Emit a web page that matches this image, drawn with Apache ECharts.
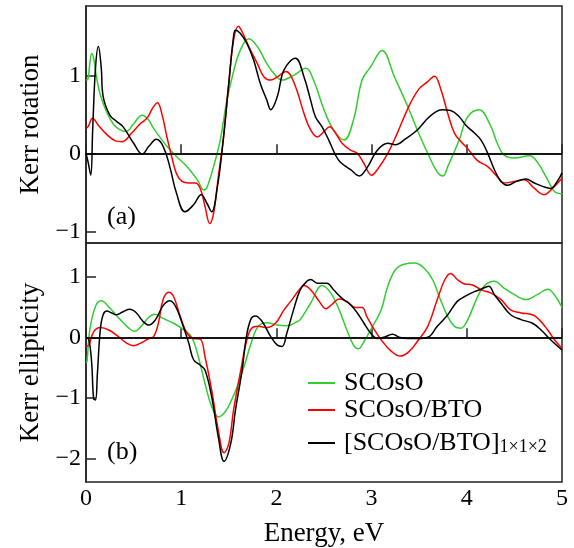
<!DOCTYPE html>
<html>
<head>
<meta charset="utf-8">
<script src="https://cdn.jsdelivr.net/npm/echarts@6/dist/echarts.min.js"></script>
<style>
  html, body { margin: 0; padding: 0; background: #fff; }
  #chart { width: 574px; height: 548px; }
</style>
</head>
<body>
<div id="chart"></div>
<script>
// series names (legend)
var names = ['SCOsO', 'SCOsO/BTO', '[SCOsO/BTO]1×1×2'];
var colors = ['#33cc33', '#ff0000', '#000000'];

// x tick values, energy in eV
var energyTicks = [0, 1, 2, 3, 4, 5];
var rotTicks = [-1, 0, 1];
var ellTicks = [-2, -1, 0, 1];

// (a) Kerr rotation, [energy, value]
var rotGreen = [[0.00,0.94],[0.02,0.95],[0.04,1.15],[0.06,1.28],[0.08,1.22],[0.11,0.98],[0.15,0.75],[0.22,0.52],[0.29,0.37],[0.36,0.30],[0.42,0.28],[0.50,0.38],[0.59,0.49],[0.65,0.44],[0.71,0.32],[0.85,0.09],[0.95,-0.04],[1.06,-0.17],[1.17,-0.34],[1.24,-0.47],[1.27,-0.44],[1.34,-0.17],[1.41,0.17],[1.48,0.68],[1.55,1.05],[1.62,1.32],[1.71,1.47],[1.80,1.37],[1.90,1.15],[1.99,1.00],[2.06,0.94],[2.18,1.00],[2.31,1.09],[2.39,0.94],[2.50,0.56],[2.60,0.30],[2.71,0.17],[2.81,0.43],[2.90,0.94],[2.99,1.11],[3.11,1.32],[3.24,0.98],[3.38,0.60],[3.48,0.30],[3.59,0.00],[3.69,-0.24],[3.75,-0.29],[3.80,-0.17],[3.92,0.17],[4.01,0.47],[4.13,0.56],[4.24,0.38],[4.32,0.13],[4.39,-0.02],[4.50,-0.06],[4.66,-0.03],[4.74,-0.11],[4.85,-0.34],[4.92,-0.49],[5.00,-0.52]];
var rotRed = [[0.00,0.32],[0.02,0.34],[0.07,0.45],[0.13,0.36],[0.22,0.24],[0.31,0.16],[0.38,0.15],[0.48,0.26],[0.57,0.38],[0.64,0.45],[0.70,0.58],[0.75,0.65],[0.80,0.49],[0.85,0.21],[0.90,-0.04],[0.95,-0.26],[1.01,-0.36],[1.08,-0.38],[1.15,-0.38],[1.20,-0.45],[1.25,-0.68],[1.30,-0.90],[1.34,-0.77],[1.39,-0.30],[1.45,0.26],[1.50,0.90],[1.55,1.45],[1.60,1.63],[1.64,1.56],[1.71,1.37],[1.80,1.15],[1.87,0.98],[1.94,0.94],[2.01,0.98],[2.10,1.05],[2.15,1.00],[2.22,0.79],[2.29,0.51],[2.36,0.30],[2.43,0.21],[2.50,0.28],[2.56,0.34],[2.62,0.26],[2.69,0.13],[2.78,0.04],[2.85,0.00],[2.92,-0.13],[3.00,-0.28],[3.06,-0.21],[3.17,0.00],[3.27,0.26],[3.39,0.60],[3.50,0.83],[3.59,0.92],[3.66,0.99],[3.73,0.81],[3.80,0.51],[3.87,0.26],[3.94,0.15],[4.01,0.06],[4.11,-0.09],[4.22,-0.17],[4.32,-0.30],[4.39,-0.38],[4.50,-0.36],[4.60,-0.34],[4.71,-0.45],[4.81,-0.53],[4.90,-0.45],[5.00,-0.32]];
var rotBlack = [[0.00,0.00],[0.02,-0.10],[0.05,-0.28],[0.07,0.30],[0.10,1.10],[0.13,1.37],[0.16,1.10],[0.18,0.73],[0.25,0.49],[0.32,0.41],[0.39,0.34],[0.50,0.13],[0.59,-0.01],[0.66,0.09],[0.74,0.18],[0.81,0.09],[0.88,-0.17],[0.95,-0.51],[1.04,-0.75],[1.13,-0.66],[1.21,-0.53],[1.27,-0.64],[1.32,-0.75],[1.38,-0.43],[1.43,0.04],[1.50,0.90],[1.55,1.50],[1.57,1.58],[1.62,1.54],[1.69,1.41],[1.76,1.20],[1.83,0.90],[1.90,0.68],[1.94,0.56],[2.01,0.73],[2.08,1.07],[2.20,1.22],[2.29,0.98],[2.36,0.68],[2.41,0.47],[2.48,0.34],[2.55,0.17],[2.62,-0.02],[2.67,-0.11],[2.78,-0.21],[2.87,-0.29],[2.95,-0.19],[3.06,0.04],[3.17,0.13],[3.25,0.11],[3.36,0.19],[3.48,0.30],[3.59,0.45],[3.67,0.53],[3.74,0.56],[3.83,0.55],[3.92,0.47],[3.99,0.36],[4.08,0.26],[4.15,0.17],[4.22,0.00],[4.29,-0.21],[4.36,-0.36],[4.43,-0.41],[4.52,-0.36],[4.62,-0.33],[4.71,-0.38],[4.81,-0.43],[4.88,-0.45],[4.95,-0.36],[5.00,-0.25]];

// (b) Kerr ellipticity, [energy, value]
var ellGreen = [[0.00,-0.42],[0.01,-0.40],[0.04,0.12],[0.10,0.51],[0.16,0.60],[0.25,0.48],[0.36,0.29],[0.45,0.15],[0.51,0.10],[0.59,0.20],[0.66,0.33],[0.72,0.38],[0.81,0.31],[0.92,0.23],[1.02,0.13],[1.11,0.00],[1.18,-0.32],[1.25,-0.76],[1.32,-1.14],[1.39,-1.31],[1.46,-1.23],[1.53,-1.03],[1.60,-0.76],[1.67,-0.43],[1.74,-0.07],[1.81,0.18],[1.90,0.24],[2.01,0.20],[2.11,0.19],[2.22,0.26],[2.25,0.29],[2.36,0.56],[2.48,0.85],[2.57,0.73],[2.66,0.45],[2.74,0.12],[2.81,-0.13],[2.86,-0.19],[2.92,-0.07],[3.01,0.18],[3.10,0.45],[3.17,0.84],[3.25,1.11],[3.34,1.20],[3.45,1.22],[3.55,1.14],[3.64,0.95],[3.71,0.67],[3.80,0.34],[3.87,0.18],[3.94,0.15],[4.01,0.29],[4.10,0.62],[4.18,0.84],[4.29,0.92],[4.39,0.81],[4.50,0.70],[4.62,0.62],[4.74,0.70],[4.85,0.79],[4.92,0.70],[5.00,0.49]];
var ellRed = [[0.00,-0.15],[0.03,-0.13],[0.08,0.09],[0.15,0.16],[0.24,0.12],[0.34,0.01],[0.43,-0.10],[0.50,-0.14],[0.57,-0.10],[0.66,-0.02],[0.71,0.01],[0.76,0.23],[0.81,0.62],[0.87,0.74],[0.92,0.67],[0.99,0.34],[1.06,0.07],[1.13,-0.02],[1.20,-0.03],[1.25,-0.32],[1.32,-0.87],[1.39,-1.53],[1.45,-1.90],[1.50,-1.75],[1.55,-1.20],[1.62,-0.59],[1.69,-0.04],[1.74,0.15],[1.81,0.18],[1.90,0.16],[1.99,0.23],[2.08,0.45],[2.15,0.59],[2.24,0.78],[2.29,0.85],[2.36,0.78],[2.45,0.59],[2.52,0.47],[2.59,0.55],[2.66,0.63],[2.74,0.59],[2.83,0.49],[2.90,0.49],[2.95,0.34],[3.03,0.12],[3.10,-0.04],[3.20,-0.22],[3.30,-0.31],[3.39,-0.24],[3.48,-0.07],[3.59,0.18],[3.69,0.62],[3.77,0.95],[3.83,1.05],[3.90,0.95],[3.97,0.88],[4.06,0.86],[4.15,0.78],[4.25,0.73],[4.36,0.62],[4.46,0.45],[4.57,0.40],[4.69,0.37],[4.76,0.29],[4.85,0.12],[4.92,-0.04],[5.00,-0.18]];
var ellBlack = [[0.00,0.00],[0.03,-0.04],[0.06,-0.43],[0.08,-1.01],[0.10,-1.03],[0.12,-0.59],[0.15,0.12],[0.18,0.37],[0.22,0.43],[0.27,0.40],[0.32,0.37],[0.39,0.42],[0.46,0.46],[0.53,0.40],[0.60,0.26],[0.66,0.20],[0.73,0.29],[0.81,0.52],[0.88,0.60],[0.94,0.51],[1.01,0.23],[1.08,-0.10],[1.13,-0.37],[1.20,-0.46],[1.25,-0.54],[1.32,-0.98],[1.39,-1.64],[1.45,-2.04],[1.52,-1.75],[1.57,-1.20],[1.64,-0.54],[1.68,-0.04],[1.73,0.29],[1.78,0.35],[1.85,0.26],[1.94,0.01],[2.01,-0.13],[2.06,-0.15],[2.11,0.07],[2.18,0.45],[2.25,0.78],[2.32,0.92],[2.36,0.95],[2.43,0.89],[2.53,0.89],[2.60,0.78],[2.69,0.64],[2.78,0.53],[2.85,0.40],[2.92,0.23],[2.99,0.07],[3.06,-0.02],[3.13,0.00],[3.22,0.05],[3.29,0.00],[3.38,-0.02],[3.48,-0.02],[3.59,0.00],[3.69,0.18],[3.80,0.37],[3.90,0.59],[3.99,0.68],[4.08,0.75],[4.15,0.79],[4.23,0.84],[4.29,0.70],[4.36,0.56],[4.46,0.37],[4.57,0.29],[4.69,0.23],[4.78,0.12],[4.88,-0.04],[5.00,-0.21]];

var font = 'Liberation Serif';

function minusFmt(v) {
    return String(v).replace('-', '\u2212');
}

function curve(name, data, color, idx) {
    return {
        name: name,
        type: 'line',
        xAxisIndex: idx,
        yAxisIndex: idx,
        data: data,
        symbol: 'none',
        smooth: 0.4,
        lineStyle: {color: color, width: 1.5},
        itemStyle: {color: color}
    };
}

function zeroLine() {
    return {
        silent: true,
        symbol: ['none', 'none'],
        label: {show: false},
        lineStyle: {color: '#000', width: 1.5, type: 'solid'},
        data: [{yAxis: 0}]
    };
}

function xAxisCfg(idx, showLabels) {
    var ax = {
        type: 'value',
        gridIndex: idx,
        min: 0,
        max: 5,
        interval: 1,
        axisLine: {show: true, lineStyle: {color: '#222', width: 1.5}},
        axisTick: {show: true, inside: true, length: 9, lineStyle: {color: '#222', width: 1.5}},
        splitLine: {show: false},
        axisLabel: {show: showLabels, color: '#000', fontFamily: font, fontSize: 24, margin: 5}
    };
    if (showLabels) {
        ax.name = 'Energy, eV';
        ax.nameLocation = 'middle';
        ax.nameGap = 38;
        ax.nameTextStyle = {color: '#000', fontFamily: font, fontSize: 27};
    }
    return ax;
}

function yAxisCfg(idx, name, min, max, ticks) {
    return {
        type: 'value',
        gridIndex: idx,
        min: min,
        max: max,
        name: name,
        nameLocation: 'middle',
        nameGap: 42,
        nameTextStyle: {color: '#000', fontFamily: font, fontSize: 27},
        axisLine: {show: true, lineStyle: {color: '#222', width: 1.5}},
        axisTick: {show: true, inside: true, length: 10, customValues: ticks, lineStyle: {color: '#222', width: 1.5}},
        splitLine: {show: false},
        axisLabel: {color: '#000', fontFamily: font, fontSize: 24, margin: 5, customValues: ticks, formatter: minusFmt}
    };
}

var series = [
    curve(names[0], rotGreen, colors[0], 0),
    curve(names[1], rotRed, colors[1], 0),
    curve(names[2], rotBlack, colors[2], 0),
    curve(names[0], ellGreen, colors[0], 1),
    curve(names[1], ellRed, colors[1], 1),
    curve(names[2], ellBlack, colors[2], 1)
];
series[0].markLine = zeroLine();
series[3].markLine = zeroLine();

var chart = echarts.init(document.getElementById('chart'));
chart.setOption({
    animation: false,
    backgroundColor: '#fff',
    grid: [
        {left: 86, right: 12, top: 6, height: 237, show: true, borderColor: '#222', borderWidth: 1.5},
        {left: 86, right: 12, top: 243, height: 239, show: true, borderColor: '#222', borderWidth: 1.5}
    ],
    xAxis: [xAxisCfg(0, false), xAxisCfg(1, true)],
    yAxis: [
        yAxisCfg(0, 'Kerr rotation', -1.15, 1.89, rotTicks),
        yAxisCfg(1, 'Kerr ellipticity', -2.38, 1.55, ellTicks)
    ],
    legend: {
        data: names,
        orient: 'vertical',
        left: 307,
        top: 370,
        padding: 0,
        itemWidth: 27,
        itemHeight: 26,
        itemGap: 1,
        selectedMode: false,
        itemStyle: {color: 'rgba(0,0,0,0)', opacity: 0, borderWidth: 0},
        textStyle: {
            color: '#000',
            fontFamily: font,
            fontSize: 26,
            padding: [0, 0, 0, 4],
            rich: {
                m: {fontFamily: font, fontSize: 26, color: '#000', lineHeight: 26, padding: [6, 0, 6, 0]},
                s: {fontFamily: font, fontSize: 18, color: '#000', lineHeight: 18, verticalAlign: 'bottom'}
            }
        },
        formatter: function (name) {
            if (name === names[2]) {
                return '{m|[SCOsO/BTO]}{s|1×1×2}';
            }
            return name;
        }
    },
    graphic: [
        {type: 'text', left: 107, top: 204, style: {text: '(a)', fill: '#000', font: '26px "Liberation Serif"'}},
        {type: 'text', left: 107, top: 439, style: {text: '(b)', fill: '#000', font: '26px "Liberation Serif"'}}
    ],
    series: series
});
</script>
</body>
</html>
